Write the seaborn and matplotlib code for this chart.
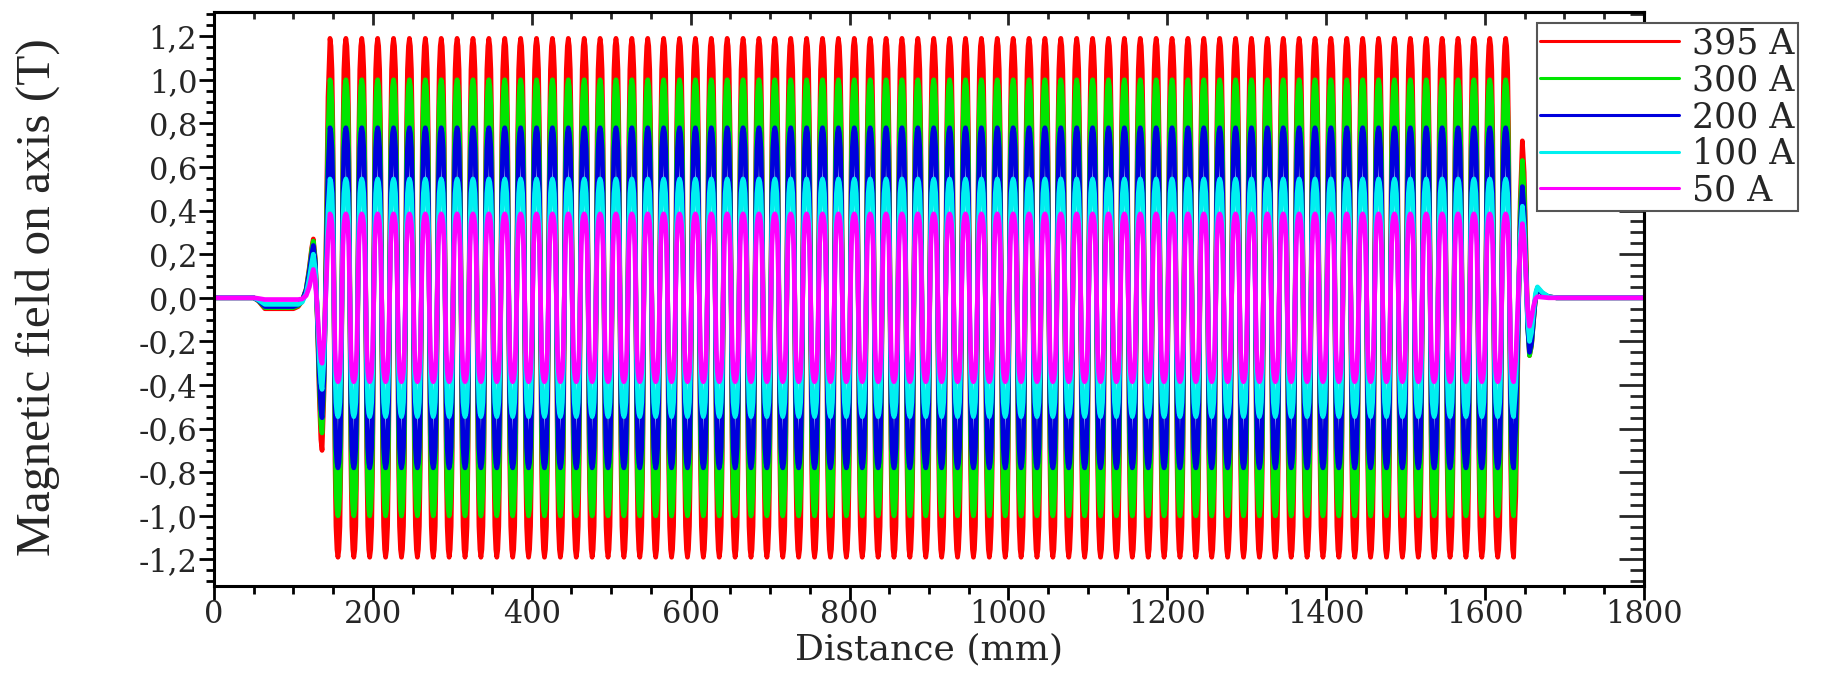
import numpy as np
import pandas as pd
import seaborn as sns
import matplotlib.pyplot as plt
from matplotlib.lines import Line2D
from matplotlib.ticker import MultipleLocator

# currents and colours, bottom layer first
currents = ["395 A", "300 A", "200 A", "100 A", "50 A"]
colors = ["#ff0000", "#00e600", "#0000dd", "#00f0f0", "#ff00ff"]

# peak field in the periodic part of the undulator (T)
peak_field = [1.19, 1.00, 0.78, 0.545, 0.385]

# one period of the on-axis field, normalised, starting at a peak
period_shape = [1.0, 0.97, 0.88, 0.62, 0.0, -0.62, -0.88, -0.97,
                -1.0, -0.97, -0.88, -0.62, 0.0, 0.62, 0.88, 0.97]
first_peak_mm = 146
period_mm = 20
n_periods = 74

# entrance end field (mm, T)
entry_x = [0, 50, 56, 64, 100, 106, 111, 116, 120, 123, 125, 127.5, 130,
           132.5, 134.5, 136, 138.5, 141, 143.5]
entry_B = {
    "395 A": [0, 0, -0.015, -0.05, -0.05, -0.04, -0.015, 0.04, 0.14, 0.23, 0.27,
              0.18, -0.1, -0.45, -0.65, -0.70, -0.43, 0.25, 0.92],
    "300 A": [0, 0, -0.013, -0.045, -0.045, -0.036, -0.013, 0.04, 0.13, 0.22, 0.26,
              0.17, -0.09, -0.40, -0.58, -0.62, -0.38, 0.19, 0.76],
    "200 A": [0, 0, -0.012, -0.04, -0.04, -0.032, -0.012, 0.035, 0.12, 0.20, 0.24,
              0.16, -0.08, -0.36, -0.51, -0.55, -0.355, 0.115, 0.585],
    "100 A": [0, 0, -0.01, -0.03, -0.03, -0.03, -0.02, 0.02, 0.09, 0.16, 0.20,
              0.13, -0.06, -0.28, -0.39, -0.42, -0.28, 0.06, 0.40],
    "50 A": [0, 0, -0.003, -0.008, -0.008, -0.008, -0.005, 0.01, 0.05, 0.10, 0.13,
             0.08, -0.05, -0.20, -0.28, -0.30, -0.20, 0.04, 0.285],
}

# exit end field (mm, T)
exit_x = [1638.75, 1641.5, 1644.25, 1647, 1649.25, 1651.5, 1653.75, 1656,
          1658.5, 1661, 1663.5, 1666, 1672, 1680, 1690, 1800]
exit_B = {
    "395 A": [-0.91, -0.235, 0.44, 0.72, 0.576, 0.228, -0.12, -0.265,
              -0.22, -0.11, 0.0, 0.045, 0.02, 0.005, 0, 0],
    "300 A": [-0.761, -0.185, 0.391, 0.63, 0.499, 0.183, -0.134, -0.265,
              -0.22, -0.11, 0.0, 0.045, 0.02, 0.005, 0, 0],
    "200 A": [-0.591, -0.135, 0.321, 0.51, 0.399, 0.13, -0.139, -0.25,
              -0.21, -0.10, 0.0, 0.045, 0.02, 0.005, 0, 0],
    "100 A": [-0.404, -0.063, 0.279, 0.42, 0.329, 0.11, -0.109, -0.20,
              -0.16, -0.07, 0.02, 0.05, 0.025, 0.005, 0, 0],
    "50 A": [-0.279, -0.023, 0.234, 0.34, 0.271, 0.105, -0.061, -0.13,
             -0.09, -0.04, -0.005, 0.005, 0.003, 0, 0, 0],
}

ytick_vals = [-1.2, -1.0, -0.8, -0.6, -0.4, -0.2, 0.0, 0.2, 0.4, 0.6, 0.8, 1.0, 1.2]
ytick_labels = ["-1,2", "-1,0", "-0,8", "-0,6", "-0,4", "-0,2", "0,0",
                "0,2", "0,4", "0,6", "0,8", "1,0", "1,2"]
xtick_vals = [0, 200, 400, 600, 800, 1000, 1200, 1400, 1600, 1800]

# build long-form table
shape = np.concatenate([np.tile(period_shape, n_periods), period_shape[:9]])
mid_x = first_peak_mm + np.arange(len(shape)) * period_mm / len(period_shape)
frames = []
for cur, amp in zip(currents, peak_field):
    xs = np.concatenate([entry_x, mid_x, exit_x])
    bs = np.concatenate([entry_B[cur], amp * shape, exit_B[cur]])
    frames.append(pd.DataFrame({"Distance": xs, "B": bs, "Current": cur}))
df = pd.concat(frames, ignore_index=True)

sns.set_style("ticks")
plt.rcParams["font.family"] = ["DejaVu Serif"]

fig = plt.figure(figsize=(18.45, 6.77), dpi=100)
ax = fig.add_axes([0.116, 0.135, 0.775, 0.847])

sns.lineplot(data=df, x="Distance", y="B", hue="Current", hue_order=currents,
             palette=colors, sort=False, estimator=None, lw=3.4,
             legend=False, ax=ax)

ax.set_xlim(0, 1800)
ax.set_ylim(-1.32, 1.31)
ax.set_xticks(xtick_vals)
ax.set_xticklabels([str(v) for v in xtick_vals])
ax.set_yticks(ytick_vals)
ax.set_yticklabels(ytick_labels)
ax.xaxis.set_minor_locator(MultipleLocator(50))
ax.yaxis.set_minor_locator(MultipleLocator(0.05))
ax.tick_params(which="major", direction="out", length=11, width=2,
               labelsize=22, pad=1, color="black")
ax.tick_params(axis="x", which="major", length=10, pad=0)
ax.tick_params(which="minor", direction="out", length=6, width=2, color="black")

for sp in ax.spines.values():
    sp.set_visible(True)
    sp.set_linewidth(2.2)
    sp.set_color("black")

# mirrored inward ticks on top and right
top = ax.secondary_xaxis("top")
top.set_xticks(xtick_vals)
top.xaxis.set_minor_locator(MultipleLocator(50))
top.tick_params(which="major", direction="in", length=9, width=2, labeltop=False)
top.tick_params(which="minor", direction="in", length=5, width=2)
top.spines["top"].set_linewidth(2.2)
right = ax.secondary_yaxis("right")
right.set_yticks(ytick_vals)
right.yaxis.set_minor_locator(MultipleLocator(0.05))
right.tick_params(which="major", direction="in", length=18, width=2, labelright=False)
right.tick_params(which="minor", direction="in", length=10, width=2)
right.spines["right"].set_linewidth(2.2)

ax.set_xlabel("Distance (mm)", fontsize=26, va="top")
ax.xaxis.set_label_coords(0.5, -0.082)
ax.set_ylabel("Magnetic field on axis (T)", fontsize=35.5,
              family=["Liberation Serif", "DejaVu Serif"])
ax.yaxis.set_label_coords(-0.108, 0.503)

handles = [Line2D([0], [0], color=c, lw=2.2) for c in colors]
leg = ax.legend(handles, currents, loc="upper left",
                bbox_to_anchor=(0.833, 0.966), bbox_transform=fig.transFigure,
                fontsize=25, handlelength=4.0, handletextpad=0.37,
                labelspacing=0.08, borderpad=0.1, borderaxespad=0,
                frameon=True, fancybox=False, framealpha=1)
leg.get_frame().set_edgecolor("#555555")
leg.get_frame().set_linewidth(1.5)

fig.savefig("out.png", dpi=100)
